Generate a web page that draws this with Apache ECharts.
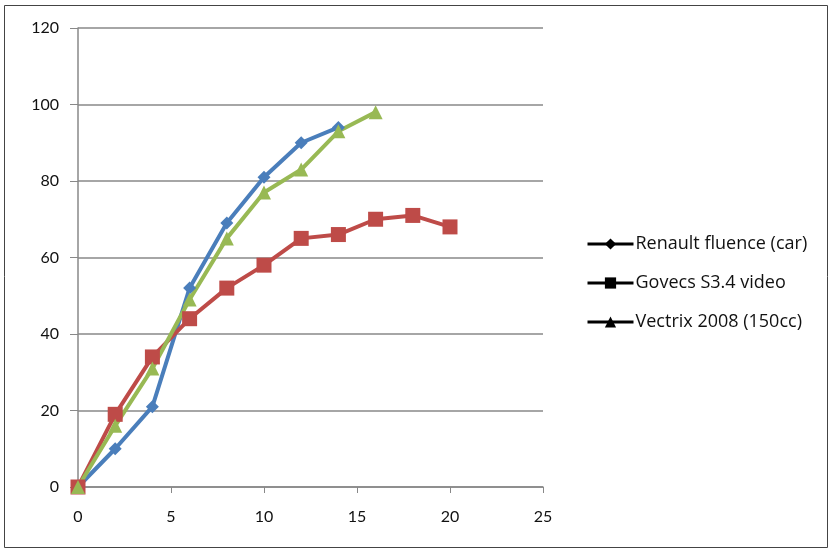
<!DOCTYPE html>
<html>
<head>
<meta charset="utf-8">
<script src="https://cdn.jsdelivr.net/npm/echarts@6/dist/echarts.min.js"></script>
<style>
  html, body { margin: 0; padding: 0; background: #fff; }
  #chart { width: 831px; height: 553px; }
</style>
</head>
<body>
<div id="chart"></div>
<script>
// Time (s) on x, speed on y, sampled every 2 units
const renaultX = [0, 2, 4, 6, 8, 10, 12, 14];
const renaultY = [0, 10, 21, 52, 69, 81, 90, 94];
const govecsX = [0, 2, 4, 6, 8, 10, 12, 14, 16, 18, 20];
const govecsY = [0, 19, 34, 44, 52, 58, 65, 66, 70, 71, 68];
const vectrixX = [0, 2, 4, 6, 8, 10, 12, 14, 16];
const vectrixY = [0, 16, 31, 49, 65, 77, 83, 93, 98];
const seriesNames = ['Renault fluence (car)', 'Govecs S3.4 video', 'Vectrix 2008 (150cc)'];

const pairs = (xs, ys) => xs.map((x, i) => [x, ys[i]]);
const font = 'Lato, "Open Sans", sans-serif';

const chart = echarts.init(document.getElementById('chart'));
chart.setOption({
  animation: false,
  backgroundColor: '#fff',
  graphic: [{
    type: 'rect',
    shape: { x: 4.5, y: 5.5, width: 823, height: 542 },
    style: { fill: 'none', stroke: '#444', lineWidth: 1 }
  }],
  grid: { left: 78, right: 288, top: 28, bottom: 66 },
  legend: {
    orient: 'vertical',
    left: 581,
    top: 230,
    itemGap: 21,
    itemWidth: 46,
    itemHeight: 14,
    textStyle: { fontFamily: '"Open Sans", sans-serif', fontSize: 18, color: '#111', padding: [0, 0, 0, -3] },
    itemStyle: { color: '#000' },
    lineStyle: { color: '#000', width: 3 },
    data: seriesNames
  },
  xAxis: {
    type: 'value', min: 0, max: 25, interval: 5,
    axisLine: { show: true, lineStyle: { color: '#888', width: 1.5 } },
    axisTick: { show: true, length: 6, inside: false, lineStyle: { color: '#888' } },
    axisLabel: { fontFamily: font, fontSize: 16, color: '#111', margin: 22 },
    splitLine: { show: false }
  },
  yAxis: {
    type: 'value', min: 0, max: 120, interval: 20,
    axisLine: { show: true, lineStyle: { color: '#888', width: 1.5 } },
    axisTick: { show: true, length: 8, lineStyle: { color: '#888' } },
    axisLabel: { fontFamily: font, fontSize: 16, color: '#111', margin: 19 },
    splitLine: { show: true, lineStyle: { color: '#888', width: 1.5 } }
  },
  series: [
    {
      name: seriesNames[0], type: 'line', data: pairs(renaultX, renaultY),
      symbol: 'diamond', symbolSize: 13,
      lineStyle: { color: '#4a7ebb', width: 4 },
      itemStyle: { color: '#4a7ebb' }
    },
    {
      name: seriesNames[1], type: 'line', data: pairs(govecsX, govecsY),
      symbol: 'rect', symbolSize: 15,
      lineStyle: { color: '#be4b48', width: 4 },
      itemStyle: { color: '#be4b48' }
    },
    {
      name: seriesNames[2], type: 'line', data: pairs(vectrixX, vectrixY),
      symbol: 'triangle', symbolSize: 14,
      lineStyle: { color: '#98b954', width: 4 },
      itemStyle: { color: '#98b954' }
    }
  ]
});
</script>
</body>
</html>
